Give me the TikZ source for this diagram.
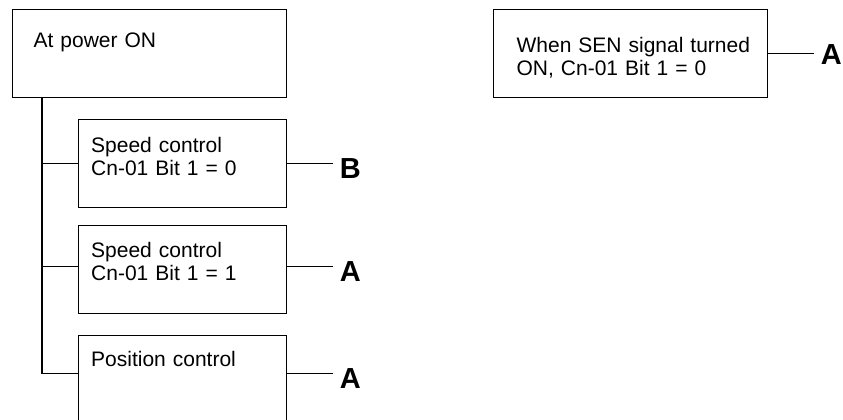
\documentclass[tikz,border=0pt]{standalone}
\usepackage{fontspec}
\setmainfont{Liberation Sans}
\usetikzlibrary{positioning}

\tikzset{
  unit/.style={draw,anchor=north west,align=left,inner ysep=0pt,font=\fontsize{10.5}{11.5}\selectfont},
  tag/.style={font=\fontsize{14.5}{16}\bfseries\selectfont,inner xsep=3pt,inner ysep=0pt},
}

\begin{document}
\begin{tikzpicture}[x=0.5pt,y=-0.5pt,line width=0.6pt]
\clip (0,0) rectangle (843,419);
% boxes, left tree
\node[unit,inner xsep=10.5pt,text width=116pt,text height=19pt,text depth=25pt] (poweron) at (12,9) {At power ON};
\node[unit,inner xsep=6.3pt,text width=91.4pt,text height=16.5pt,text depth=27.5pt] (speedoff) at (78,119) {Speed control\\Cn-01 Bit 1 = 0};
\node[unit,inner xsep=6.3pt,text width=91.4pt,text height=16pt,text depth=28pt] (speedon) at (78,225) {Speed control\\Cn-01 Bit 1 = 1};
\node[unit,inner xsep=6.3pt,text width=91.4pt,text height=15.5pt,text depth=28.5pt] (position) at (78,335) {Position control};
% box on the right
\node[unit,inner xsep=11.5pt,text width=114pt,text height=21.5pt,text depth=22.5pt] (senon) at (493,9) {\mbox{When SEN signal turned}\\ON, Cn-01 Bit 1 = 0};

% result letters
\node[tag,right=23pt of speedoff.east,yshift=-2.5pt] (tagB) {B};
\node[tag,right=23pt of speedon.east,yshift=-1pt] (tagA1) {A};
\node[tag,right=23pt of position.east,yshift=0.75pt] (tagA2) {A};
\node[tag,right=23pt of senon.east,yshift=-0.5pt] (tagA3) {A};

% trunk and branches
\coordinate (trunk) at ([xshift=15pt]poweron.south west);
\coordinate (speedonin) at ([yshift=1.5pt]speedon.west);
\coordinate (positionin) at ([yshift=3pt]position.west);
\coordinate (speedonout) at ([yshift=1.5pt]speedon.east);
\coordinate (positionout) at ([yshift=3pt]position.east);
\draw (trunk) |- (positionin);
\draw (trunk |- speedoff.west) -- (speedoff.west);
\draw (trunk |- speedonin) -- (speedonin);

% outgoing lines
\draw (speedoff.east) -- (speedoff.east -| tagB.west);
\draw (speedonout) -- (speedonout -| tagA1.west);
\draw (positionout) -- (positionout -| tagA2.west);
\draw (senon.east) -- (senon.east -| tagA3.west);
\end{tikzpicture}
\end{document}
